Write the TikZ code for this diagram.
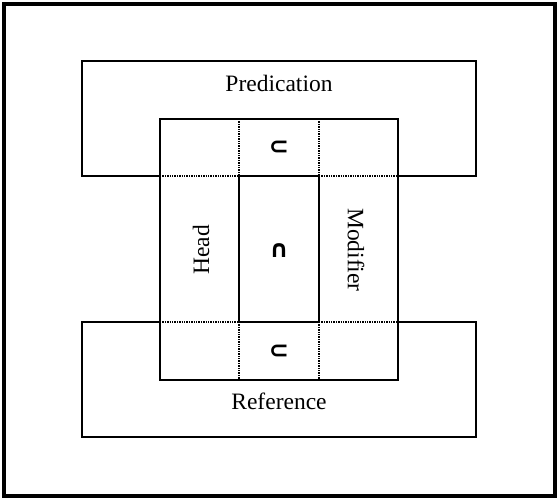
\documentclass[tikz,border=0pt]{standalone}
\usepackage{fontspec}
\setmainfont{Liberation Serif}
\newfontfamily\symfont{DejaVu Sans}
\begin{document}
\begin{tikzpicture}[x=1pt,y=-1pt,
  frame/.style={draw=black, line width=4pt},
  box/.style={draw=black, line width=1.8pt},
  cell/.style={draw=black, line width=1.4pt, densely dotted},
  lbl/.style={font=\fontsize{23.5}{28}\selectfont},
  sym/.style={font=\fontsize{24}{28}\selectfont\symfont\bfseries}
]
\useasboundingbox (0,0) rectangle (559,500);
\draw[frame] (4,4) rectangle (555,496);
\def\xa{82} \def\xb{160} \def\xc{239} \def\xd{319} \def\xe{398} \def\xf{476}
% outer frames
\draw[box] (\xb,176) -- (\xa,176) -- (\xa,61) -- (\xf,61) -- (\xf,176) -- (\xe,176);
\draw[box] (\xb,322) -- (\xa,322) -- (\xa,437) -- (\xf,437) -- (\xf,322) -- (\xe,322);
% central grid
\draw[box] (\xb,119) rectangle (\xe,380);
\draw[box] (\xc,176) rectangle (\xd,322);
\foreach \y in {176,322} {
  \draw[cell] (\xb,\y) -- (\xc,\y);
  \draw[cell] (\xd,\y) -- (\xe,\y);
}
\foreach \ya/\yb in {119/176,322/380} {
  \draw[cell] (\xc,\ya) -- (\xc,\yb);
  \draw[cell] (\xd,\ya) -- (\xd,\yb);
}
\node[lbl] (pred) at (279,83) {Predication};
\node[lbl] (ref) at (279,401) {Reference};
\node[lbl, rotate=90] (head) at (201,250) {Head};
\node[lbl, rotate=-90] (mod) at (356,250) {Modifier};
\node[sym] (subtop) at (279,148) {⊂};
\node[sym] (capmid) at (279,251) {∩};
\node[sym] (subbot) at (279,352) {⊂};
\end{tikzpicture}
\end{document}
